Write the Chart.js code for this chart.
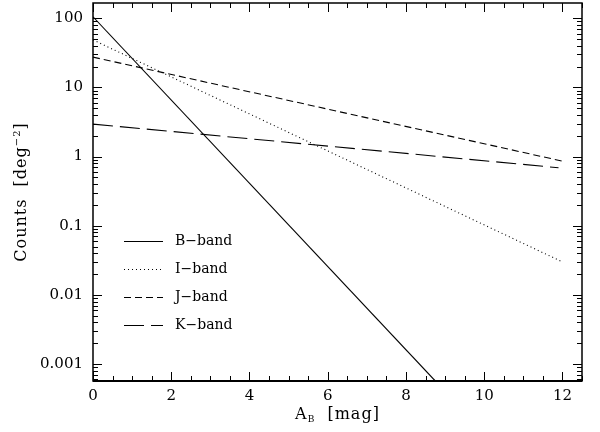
<!DOCTYPE html>
<html>
<head>
<meta charset="utf-8">
<script src="https://cdn.jsdelivr.net/npm/chart.js@4.4.1/dist/chart.umd.min.js"></script>
<style>
  html, body { margin: 0; padding: 0; background: #fff; }
  #wrap { width: 600px; height: 432px; position: relative; }
</style>
</head>
<body>
<div id="wrap"><canvas id="chart"></canvas></div>
<script>
// Axis ranges and ticks
const xMin = 0;
const xMax = 12.5;
const yMin = 0.00057;
const yMax = 166;
const xTicks = [0, 2, 4, 6, 8, 10, 12];
const yTickValues = [0.001, 0.01, 0.1, 1, 10, 100];
const yTickLabels = ['0.001', '0.01', '0.1', '1', '10', '100'];

// Series: straight lines in log space, endpoints
const bandNames = ['B\u2212band', 'I\u2212band', 'J\u2212band', 'K\u2212band'];
const bandBx = [0, 8.75];
const bandBy = [105, 0.00057];
const bandIx = [0, 12];
const bandIy = [48.6, 0.030];
const bandJx = [0, 12];
const bandJy = [27.4, 0.86];
const bandKx = [0, 11.9];
const bandKy = [2.95, 0.69];

const FONT = '"DejaVu Serif", "Liberation Serif", serif';

function pts(xs, ys) {
  return xs.map((x, i) => ({ x: x, y: ys[i] }));
}

// Frame, inward ticks on all four sides, axis titles and the inset legend
const framePlugin = {
  id: 'frame',
  afterDraw(chart) {
    const ctx = chart.ctx;
    const a = chart.chartArea;
    const xs = chart.scales.x;
    const ys = chart.scales.y;
    ctx.save();
    ctx.strokeStyle = '#000';

    // ticks
    ctx.lineWidth = 1;
    ctx.beginPath();
    for (let v = xMin; v <= xMax + 1e-9; v += 0.5) {
      const px = Math.round(xs.getPixelForValue(v)) + 0.5;
      const len = xTicks.includes(v) ? 9 : 5;
      ctx.moveTo(px, a.bottom); ctx.lineTo(px, a.bottom - len);
      ctx.moveTo(px, a.top); ctx.lineTo(px, a.top + len);
    }
    for (let d = -4; d <= 2; d++) {
      for (let m = 1; m <= 9; m++) {
        const v = m * Math.pow(10, d);
        if (v < yMin || v > yMax) continue;
        const py = Math.round(ys.getPixelForValue(v)) + 0.5;
        const len = m === 1 ? 9 : 5;
        ctx.moveTo(a.left, py); ctx.lineTo(a.left + len, py);
        ctx.moveTo(a.right, py); ctx.lineTo(a.right - len, py);
      }
    }
    ctx.stroke();

    // frame
    ctx.lineWidth = 1.5;
    ctx.strokeRect(a.left, a.top, a.right - a.left, a.bottom - a.top);
    ctx.lineWidth = 2.2;
    ctx.beginPath();
    ctx.moveTo(a.left, a.bottom); ctx.lineTo(a.right, a.bottom);
    ctx.stroke();

    // x title with subscript
    ctx.fillStyle = '#000';
    ctx.textBaseline = 'alphabetic';
    ctx.letterSpacing = '1px';
    const partA = 'A';
    const partSub = 'B';
    const partRest = '  [mag]';
    ctx.font = '16px ' + FONT;
    const wA = ctx.measureText(partA).width;
    const wR = ctx.measureText(partRest).width;
    ctx.font = '9px ' + FONT;
    const wS = ctx.measureText(partSub).width;
    const total = wA + wS + wR;
    const cx = (a.left + a.right) / 2 - total / 2;
    const base = 419;
    ctx.textAlign = 'left';
    ctx.font = '16px ' + FONT;
    ctx.fillText(partA, cx, base);
    ctx.font = '9px ' + FONT;
    ctx.fillText(partSub, cx + wA, base + 3);
    ctx.font = '16px ' + FONT;
    ctx.fillText(partRest, cx + wA + wS, base);

    // y title with superscript
    ctx.save();
    ctx.translate(26, (a.top + a.bottom) / 2);
    ctx.rotate(-Math.PI / 2);
    const t1 = 'Counts  [deg';
    const tSup = '\u22122';
    const t2 = ']';
    ctx.font = '16px ' + FONT;
    const w1 = ctx.measureText(t1).width;
    const w2 = ctx.measureText(t2).width;
    ctx.font = '10px ' + FONT;
    const wSup = ctx.measureText(tSup).width;
    const sx = -(w1 + wSup + w2) / 2;
    ctx.font = '16px ' + FONT;
    ctx.fillText(t1, sx, 0);
    ctx.font = '10px ' + FONT;
    ctx.fillText(tSup, sx + w1, -6);
    ctx.font = '16px ' + FONT;
    ctx.fillText(t2, sx + w1 + wSup, 0);
    ctx.restore();
    ctx.letterSpacing = '0px';

    // legend
    ctx.font = '14px ' + FONT;
    ctx.textBaseline = 'middle';
    chart.data.datasets.forEach((ds, i) => {
      const ly = 241 + i * 28 + 0.5;
      ctx.setLineDash(ds.borderDash || []);
      ctx.lineWidth = 1.1;
      ctx.beginPath();
      ctx.moveTo(124, ly); ctx.lineTo(163, ly);
      ctx.stroke();
      ctx.setLineDash([]);
      ctx.fillText(ds.label, 175, ly);
    });
    ctx.restore();
  }
};

const datasets = [
  { label: bandNames[0], data: pts(bandBx, bandBy), borderDash: [] },
  { label: bandNames[1], data: pts(bandIx, bandIy), borderDash: [1, 3] },
  { label: bandNames[2], data: pts(bandJx, bandJy), borderDash: [7, 4] },
  { label: bandNames[3], data: pts(bandKx, bandKy), borderDash: [20, 7] }
].map(d => Object.assign(d, {
  borderColor: '#000',
  borderWidth: 1.1,
  pointRadius: 0,
  fill: false,
  tension: 0
}));

new Chart(document.getElementById('chart'), {
  type: 'line',
  data: { datasets: datasets },
  options: {
    responsive: true,
    maintainAspectRatio: false,
    animation: false,
    layout: { padding: { left: 0, top: 3, right: 18, bottom: 0 } },
    plugins: {
      legend: { display: false },
      tooltip: { enabled: false }
    },
    scales: {
      x: {
        type: 'linear',
        min: xMin,
        max: xMax,
        grid: { display: false, drawTicks: false },
        border: { display: false },
        afterBuildTicks: s => { s.ticks = xTicks.map(v => ({ value: v })); },
        afterFit: s => { s.height = 51; s.paddingLeft = 0; s.paddingRight = 0; },
        ticks: {
          color: '#000',
          padding: 6,
          maxRotation: 0,
          autoSkip: false,
          font: { family: FONT, size: 15 },
          callback: v => String(v)
        }
      },
      y: {
        type: 'logarithmic',
        min: yMin,
        max: yMax,
        grid: { display: false, drawTicks: false },
        border: { display: false },
        afterBuildTicks: s => { s.ticks = yTickValues.map(v => ({ value: v })); },
        afterFit: s => { s.width = 93; s.paddingTop = 0; s.paddingBottom = 0; },
        ticks: {
          color: '#000',
          padding: 10,
          autoSkip: false,
          font: { family: FONT, size: 15 },
          callback: v => {
            const i = yTickValues.findIndex(t => Math.abs(t - v) / t < 1e-6);
            return i >= 0 ? yTickLabels[i] : '';
          }
        }
      }
    }
  },
  plugins: [framePlugin]
});
</script>
</body>
</html>
